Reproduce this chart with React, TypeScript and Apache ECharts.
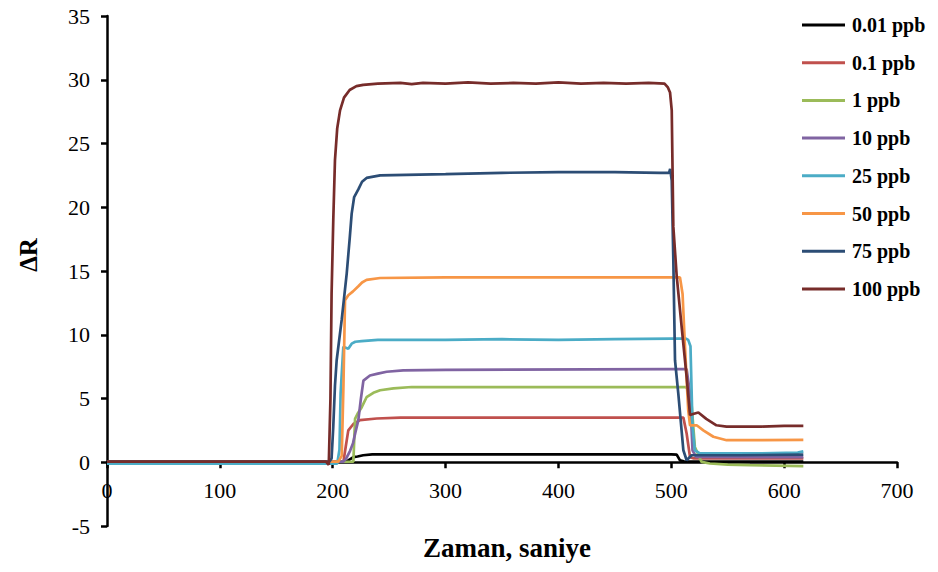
import React, { useEffect, useRef } from "react";
import * as echarts from "echarts";

const seriesNames = ["0.01 ppb", "0.1 ppb", "1 ppb", "10 ppb", "25 ppb", "50 ppb", "75 ppb", "100 ppb"];
const seriesColors = ["#000000", "#C0504D", "#9BBB59", "#8064A2", "#4BACC6", "#F79646", "#2C4D75", "#772C2A"];

const s001: [number, number][] = [[0,0.05],[212,0.05],[213.8,0.15],[218.3,0.4],[222,0.45],[227,0.55],[235,0.62],[500,0.62],[504.8,0.6],[507.7,0.15],[511,0.08],[617,0.05]];
const s01: [number, number][] = [[0,0.05],[209.5,0.05],[211.5,1.2],[213.8,2.5],[218.3,3.0],[224.2,3.3],[239,3.43],[260,3.5],[500,3.5],[510.7,3.5],[513.6,2.25],[516.6,0.4],[520,0.3],[617,0.3]];
const s1: [number, number][] = [[0,0.05],[120,0.0],[218.3,0.05],[219.8,3.4],[222,3.8],[225.6,4.3],[230,5.1],[236,5.45],[242,5.65],[253.8,5.8],[270,5.9],[500,5.9],[513,5.9],[515.5,5.6],[518,4.5],[520.9,1.2],[526.8,0.03],[534.2,-0.1],[550,-0.18],[569.7,-0.23],[617,-0.3]];
const s10: [number, number][] = [[0,0.05],[209.5,0.05],[212,0.3],[215.4,0.9],[218,1.5],[220,2.3],[222.7,3.3],[225,5.0],[227.2,6.4],[233,6.8],[240,6.95],[247.8,7.1],[262.5,7.2],[300,7.25],[500,7.3],[513.6,7.3],[516.6,5.4],[518.8,0.94],[522,0.42],[617,0.4]];
const s25: [number, number][] = [[0,-0.1],[150,-0.1],[204,-0.1],[206,1],[207,5.4],[209.4,9.06],[211,9.0],[213.8,8.9],[216.8,9.3],[220,9.45],[225.6,9.5],[240,9.6],[300,9.6],[350,9.65],[400,9.6],[450,9.65],[500,9.7],[513,9.7],[515,9.6],[517,9.1],[518.8,2.8],[520.9,0.94],[525.3,0.7],[580,0.7],[612,0.75],[617,0.85]];
const s50: [number, number][] = [[0,0.05],[205,0.05],[208,0.5],[209.5,6],[210.9,12.7],[213.8,13.1],[218,13.4],[222.7,13.8],[226,14.1],[230,14.3],[242,14.45],[300,14.5],[400,14.5],[500,14.5],[507.7,14.5],[510,13.2],[512,9.3],[515,4.1],[516.6,2.9],[522.5,2.9],[528.4,2.5],[537.3,2.0],[549,1.73],[580,1.73],[617,1.75]];
const s75: [number, number][] = [[0,0.05],[197,0.05],[199,0.3],[200.5,2.8],[202,6],[203.5,8.0],[208,11.2],[212.4,14.8],[215,17.5],[216.8,19.5],[219,20.8],[222.7,21.4],[226,22.0],[230,22.3],[242,22.5],[300,22.6],[350,22.7],[400,22.75],[450,22.75],[490,22.7],[498,22.7],[499,23.0],[500.4,22.1],[501.8,15.9],[503.3,8.0],[506.2,5.4],[510.7,0.94],[513.6,0.16],[518,0.55],[560,0.55],[617,0.6]];
const s100: [number, number][] = [[0,0.05],[100,0.05],[194,0.05],[196.5,-0.2],[198,5],[199,13.2],[200.5,19],[202,23.7],[204,26.2],[206.5,27.6],[210,28.6],[215,29.2],[221,29.5],[227,29.6],[240,29.7],[260,29.75],[270,29.65],[280,29.75],[300,29.7],[320,29.8],[340,29.7],[360,29.75],[380,29.7],[400,29.8],[420,29.7],[440,29.75],[460,29.7],[480,29.75],[494,29.7],[497,29.4],[498.9,29.0],[500.4,27.6],[501.8,18.5],[504.8,14.6],[509.2,10.6],[513.6,6.7],[516.6,3.7],[520,3.8],[524,3.9],[531,3.4],[540,2.9],[549,2.8],[580,2.8],[600,2.85],[617,2.85]];

const seriesData = [s001, s01, s1, s10, s25, s50, s75, s100];

const xTicks = { min: 0, max: 700, interval: 100 };
const yTicks = { min: -5, max: 35, interval: 5 };

const FONT = '"Liberation Serif", "Times New Roman", serif';

const GRID_TOP = 16;
const GRID_BOTTOM = 46;
const CHART_H = 572;

export default function App() {
  const ref = useRef<HTMLDivElement>(null);
  useEffect(() => {
    document.body.style.margin = "0";
    const chart = echarts.init(ref.current!, null, { renderer: "svg" });
    const plotH = CHART_H - GRID_TOP - GRID_BOTTOM;
    const zeroOffset = -(plotH * (0 - yTicks.min)) / (yTicks.max - yTicks.min);
    chart.setOption({
      animation: false,
      backgroundColor: "#ffffff",
      grid: { left: 107, right: 41, top: GRID_TOP, bottom: GRID_BOTTOM, containLabel: false },
      xAxis: {
        type: "value",
        min: xTicks.min,
        max: xTicks.max,
        interval: xTicks.interval,
        position: "bottom",
        offset: zeroOffset,
        axisLine: { onZero: false, lineStyle: { color: "#000", width: 2.5 } },
        axisTick: { show: true, inside: false, length: 6, lineStyle: { color: "#000", width: 2.5 } },
        axisLabel: { color: "#000", fontFamily: FONT, fontSize: 22, margin: 17 },
        splitLine: { show: false },
      },
      yAxis: {
        type: "value",
        min: yTicks.min,
        max: yTicks.max,
        interval: yTicks.interval,
        axisLine: { show: true, onZero: false, lineStyle: { color: "#000", width: 2.5 } },
        axisTick: { show: true, inside: false, length: 6, lineStyle: { color: "#000", width: 2.5 } },
        axisLabel: { color: "#000", fontFamily: FONT, fontSize: 22, margin: 17 },
        splitLine: { show: false },
      },
      legend: {
        orient: "vertical",
        left: 797,
        top: 10,
        icon: "rect",
        itemWidth: 43,
        itemHeight: 3,
        itemGap: 17.7,
        data: seriesNames,
        textStyle: { color: "#000", fontFamily: FONT, fontWeight: "bold", fontSize: 20, padding: [0, 0, 0, 2] },
      },
      graphic: [
        {
          type: "text",
          x: 28,
          y: 255,
          rotation: Math.PI / 2,
          style: {
            text: "ΔR",
            font: `bold 25px ${FONT}`,
            fill: "#000",
            textAlign: "center",
            textVerticalAlign: "middle",
          },
        },
        {
          type: "text",
          x: 507,
          y: 548,
          style: {
            text: "Zaman, saniye",
            font: `bold 27px ${FONT}`,
            fill: "#000",
            textAlign: "center",
            textVerticalAlign: "middle",
          },
        },
      ],
      series: seriesNames.map((name, i) => ({
        name,
        type: "line",
        data: seriesData[i],
        symbol: "none",
        showSymbol: false,
        smooth: false,
        color: seriesColors[i],
        lineStyle: { color: seriesColors[i], width: 2.7 },
      })),
    });
    return () => chart.dispose();
  }, []);
  return <div ref={ref} style={{ position: "absolute", left: 0, top: 0, width: 938, height: 572 }} />;
}
